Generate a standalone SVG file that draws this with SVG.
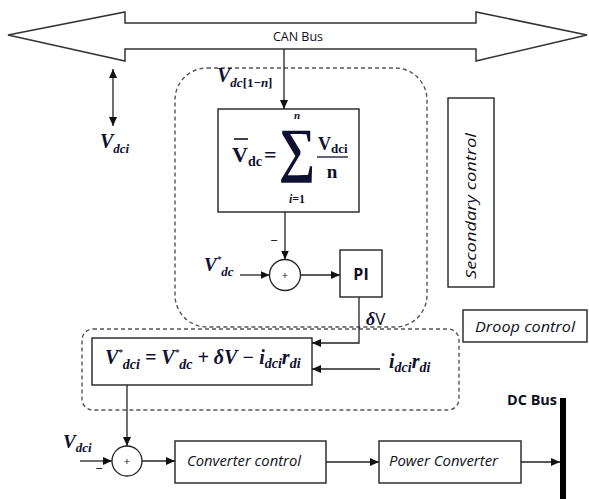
<svg xmlns="http://www.w3.org/2000/svg" width="589" height="499" viewBox="0 0 589 499">
<style>
.box{fill:#fff;stroke:#222;stroke-width:1.4}
.ln{fill:none;stroke:#222;stroke-width:1.3}
.dash{fill:none;stroke:#555;stroke-width:1.4;stroke-dasharray:4 3}
.m{font-family:"Liberation Serif",serif;font-weight:bold;font-style:italic;fill:#101030}
.mu{font-family:"Liberation Serif",serif;font-weight:bold;fill:#101030}
.s{font-family:"Open Sans","Liberation Sans",sans-serif;fill:#101020}
.si{font-family:"Open Sans","Liberation Sans",sans-serif;font-style:italic;fill:#101020}
</style>
<defs>
<marker id="ah" markerWidth="9" markerHeight="8" refX="9" refY="4" orient="auto" markerUnits="userSpaceOnUse">
<path d="M0,0 L9,4 L0,8 Z" fill="#111"/>
</marker>
<marker id="ahs" markerWidth="9" markerHeight="8" refX="0" refY="4" orient="auto" markerUnits="userSpaceOnUse">
<path d="M9,0 L0,4 L9,8 Z" fill="#111"/>
</marker>
</defs>

<g id="can-bus">
<polygon points="8,35 125,12 125,23 476,23 476,12 587,35 476,61 476,49 125,49 125,61" fill="#fff" stroke="#333" stroke-width="1.5"/>
<text class="s" x="298" y="41" font-size="12.5" text-anchor="middle">CAN Bus</text>
</g>

<g id="secondary-region">
<rect class="dash" x="175" y="68" width="252" height="259" rx="32" ry="32"/>
</g>
<g id="droop-region">
<rect class="dash" x="82" y="329" width="377" height="81" rx="11" ry="11"/>
</g>

<g id="secondary-label">
<rect class="box" x="448" y="98" width="46" height="189"/>
<text class="si" transform="translate(476,206) rotate(-90)" font-size="15" text-anchor="middle" textLength="146" lengthAdjust="spacingAndGlyphs">Secondary control</text>
</g>

<g id="droop-label">
<rect class="box" x="463" y="310" width="124" height="32"/>
<text class="si" x="525" y="332" font-size="15" text-anchor="middle" textLength="100" lengthAdjust="spacingAndGlyphs">Droop control</text>
</g>

<g id="vdci-top-label">
<text class="m" x="100" y="148" font-size="20">V<tspan font-size="13" dy="5">dci</tspan></text>
</g>

<g id="vdc-1n-label">
<text class="m" x="217" y="82" font-size="20">V<tspan font-size="13" dy="5">dc</tspan><tspan class="mu" font-size="13" font-style="normal">[1−</tspan><tspan font-size="13">n</tspan><tspan class="mu" font-size="13" font-style="normal">]</tspan></text>
</g>

<g id="average-block">
<rect class="box" x="218" y="109" width="141" height="103"/>
<text class="mu" x="232" y="162" font-size="22">V<tspan font-size="14" dy="4">dc</tspan></text>
<line x1="234" y1="139" x2="248" y2="139" stroke="#101030" stroke-width="1.6"/>
<text class="mu" x="264" y="162" font-size="22">=</text>
<text class="mu" x="297" y="170" font-size="60" text-anchor="middle" transform="translate(297,0) scale(0.85,1) translate(-297,0)">∑</text>
<text class="m" x="297" y="119" font-size="11" text-anchor="middle">n</text>
<text class="m" x="297" y="203" font-size="12" text-anchor="middle">i<tspan class="mu" font-style="normal">=1</tspan></text>
<text class="mu" x="318" y="150" font-size="18">V<tspan font-size="13" dy="3">dci</tspan></text>
<line x1="317" y1="157" x2="348" y2="157" stroke="#101030" stroke-width="1.3"/>
<text class="mu" x="332" y="178" font-size="19" text-anchor="middle">n</text>
</g>

<g id="vdc-ref-label">
<text class="m" x="204" y="271" font-size="19">V<tspan font-size="9" dy="-9">*</tspan><tspan font-size="13" dy="14">dc</tspan></text>
</g>

<g id="sum1">
<circle cx="285" cy="275" r="15.5" fill="#fff" stroke="#222" stroke-width="1.3"/>
<text class="s" x="285" y="279" font-size="11" text-anchor="middle">+</text>
<text class="s" x="274" y="245" font-size="13" text-anchor="middle">−</text>
</g>

<g id="pi">
<rect class="box" x="340" y="250" width="42" height="47"/>
<text class="s" x="361" y="280" font-size="16" font-weight="bold" text-anchor="middle">PI</text>
</g>

<g id="deltaV-label">
<text class="m" x="366" y="325" font-size="18">δ<tspan class="s" font-style="normal" font-weight="normal" font-size="17">V</tspan></text>
</g>

<g id="droop-block">
<rect class="box" x="92" y="338" width="220" height="47"/>
<text class="m" x="105" y="364" font-size="20">V<tspan font-size="9" dy="-9">*</tspan><tspan font-size="14" dy="14">dci</tspan><tspan dy="-5"> = V</tspan><tspan font-size="9" dy="-9">*</tspan><tspan font-size="14" dy="14">dc</tspan><tspan dy="-5"> + δV − i</tspan><tspan font-size="14" dy="4">dci</tspan><tspan dy="-4">r</tspan><tspan font-size="14" dy="4">di</tspan></text>
</g>

<g id="idci-label">
<text class="m" x="389" y="368" font-size="20">i<tspan font-size="14" dy="4">dci</tspan><tspan dy="-4">r</tspan><tspan font-size="14" dy="4">di</tspan></text>
</g>

<g id="vdci-bottom-label">
<text class="m" x="63" y="448" font-size="19">V<tspan font-size="13" dy="4">dci</tspan></text>
<text class="s" x="99" y="473" font-size="13" text-anchor="middle">−</text>
</g>

<g id="sum2">
<circle cx="127" cy="461" r="15" fill="#fff" stroke="#222" stroke-width="1.3"/>
<text class="s" x="127" y="465" font-size="11" text-anchor="middle">+</text>
</g>

<g id="converter-control">
<rect class="box" x="175" y="441" width="151" height="42"/>
<text class="si" x="187" y="466" font-size="15" textLength="114" lengthAdjust="spacingAndGlyphs">Converter control</text>
</g>

<g id="power-converter">
<rect class="box" x="379" y="441" width="142" height="42"/>
<text class="si" x="389" y="466" font-size="15" textLength="109" lengthAdjust="spacingAndGlyphs">Power Converter</text>
</g>

<g id="dc-bus">
<line x1="563" y1="398" x2="563" y2="499" stroke="#000" stroke-width="6"/>
<text class="s" x="557" y="405" font-size="14" font-weight="bold" text-anchor="end" textLength="50" lengthAdjust="spacingAndGlyphs">DC Bus</text>
</g>

<g id="connectors">
<line class="ln" x1="113" y1="69" x2="113" y2="126" marker-start="url(#ahs)" marker-end="url(#ah)"/>
<line class="ln" x1="284" y1="49" x2="284" y2="109" marker-end="url(#ah)"/>
<line class="ln" x1="285" y1="212" x2="285" y2="259.5" marker-end="url(#ah)"/>
<line class="ln" x1="240" y1="275" x2="269.5" y2="275" marker-end="url(#ah)"/>
<line class="ln" x1="300.5" y1="275" x2="340" y2="275" marker-end="url(#ah)"/>
<polyline class="ln" points="359,297 359,343 312,343" marker-end="url(#ah)"/>
<line class="ln" x1="380" y1="369" x2="312" y2="369" marker-end="url(#ah)"/>
<line class="ln" x1="127" y1="385" x2="127" y2="446" marker-end="url(#ah)"/>
<line class="ln" x1="80" y1="461" x2="112" y2="461" marker-end="url(#ah)"/>
<line class="ln" x1="142" y1="461" x2="175" y2="461" marker-end="url(#ah)"/>
<line class="ln" x1="326" y1="462" x2="379" y2="462" marker-end="url(#ah)"/>
<line class="ln" x1="521" y1="462" x2="560" y2="462" marker-end="url(#ah)"/>
</g>
</svg>
